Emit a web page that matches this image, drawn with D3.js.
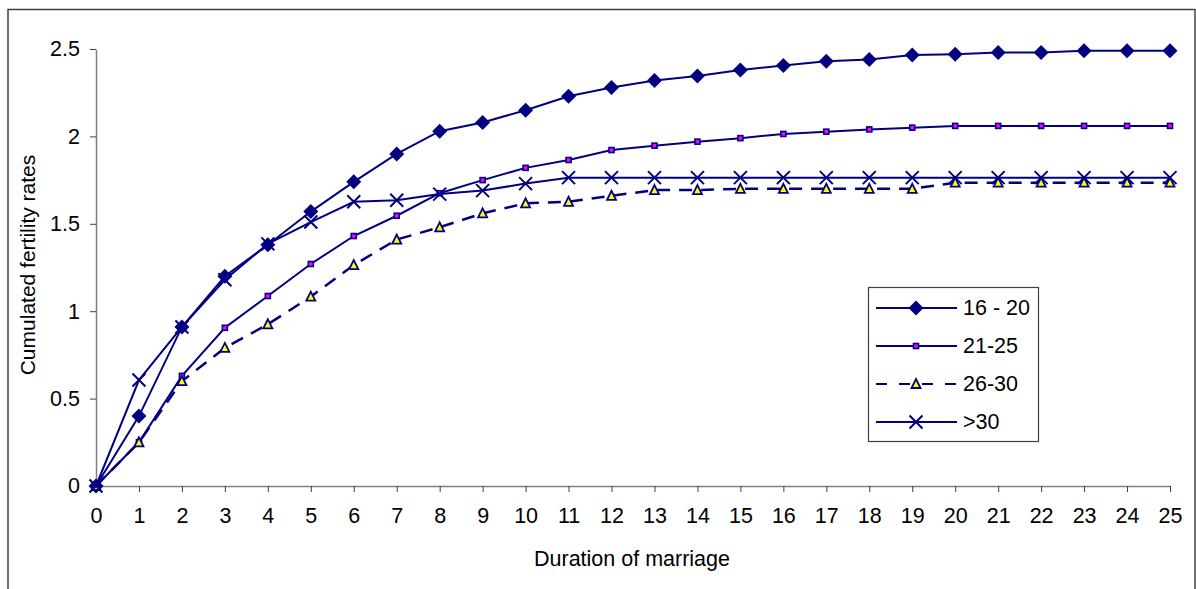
<!DOCTYPE html>
<html>
<head>
<meta charset="utf-8">
<script src="https://cdn.jsdelivr.net/npm/d3@7"></script>
<style>
  body { margin: 0; background: #fff; }
  text { font-family: "Liberation Sans", Arial, sans-serif; fill: #000; }
</style>
</head>
<body>
<div id="chart"></div>
<script>
var durations = d3.range(0, 26);
var yTicks = [0, 0.5, 1, 1.5, 2, 2.5];

var age16_20 = [0, 0.40, 0.91, 1.20, 1.38, 1.57, 1.74, 1.90, 2.03, 2.08, 2.15, 2.23, 2.28, 2.32, 2.345, 2.38, 2.405, 2.43, 2.44, 2.465, 2.47, 2.48, 2.48, 2.49, 2.49, 2.49];
var age21_25 = [0, 0.25, 0.63, 0.905, 1.087, 1.27, 1.43, 1.546, 1.675, 1.75, 1.82, 1.865, 1.922, 1.947, 1.97, 1.99, 2.014, 2.027, 2.04, 2.05, 2.06, 2.06, 2.06, 2.06, 2.06, 2.06];
var age26_30 = [0, 0.25, 0.60, 0.79, 0.925, 1.083, 1.264, 1.41, 1.48, 1.56, 1.617, 1.626, 1.66, 1.693, 1.693, 1.70, 1.70, 1.70, 1.70, 1.70, 1.735, 1.735, 1.735, 1.735, 1.735, 1.735];
var age30plus = [0, 0.606, 0.91, 1.18, 1.385, 1.51, 1.626, 1.635, 1.67, 1.69, 1.73, 1.764, 1.764, 1.764, 1.764, 1.764, 1.764, 1.764, 1.764, 1.764, 1.764, 1.764, 1.764, 1.764, 1.764, 1.764];

var seriesNames = ['16 - 20', '21-25', '26-30', '>30'];
var seriesValues = [age16_20, age21_25, age26_30, age30plus];

var width = 1196, height = 589;
var margin = {top: 49, left: 96, right: 26, bottom: 103};
var navy = '#000080';
var fontSize = 21.5;

var svg = d3.select('#chart').append('svg')
    .attr('width', width)
    .attr('height', height);

// outer frame
svg.append('rect')
  .attr('x', 8)
  .attr('y', 9.5)
  .attr('width', 1187)
  .attr('height', 600)
  .attr('fill', 'none')
  .attr('stroke', '#404040')
  .attr('stroke-width', 1.5);

var x = d3.scaleLinear().domain([0, 25]).range([margin.left, width - margin.right]);
var y = d3.scaleLinear().domain([0, 2.5]).range([height - margin.bottom, margin.top]);

var xAxis = svg.append('g')
  .attr('transform', 'translate(0,' + y(0) + ')')
  .call(d3.axisBottom(x).tickValues(durations).tickSize(6).tickSizeOuter(0).tickPadding(16));

var yAxis = svg.append('g')
  .attr('transform', 'translate(' + x(0) + ',0)')
  .call(d3.axisLeft(y).tickValues(yTicks).tickSize(6).tickSizeOuter(0).tickPadding(10)
    .tickFormat(function(d) { return d3.format('')(d); }));

[xAxis, yAxis].forEach(function(g) {
  g.select('.domain').attr('stroke', '#808080').attr('stroke-width', 1.5);
  g.selectAll('.tick line').attr('stroke', '#404040');
  g.selectAll('.tick text').attr('font-size', fontSize);
});

svg.append('text')
  .attr('x', 632)
  .attr('y', 566)
  .attr('text-anchor', 'middle')
  .attr('font-size', fontSize)
  .text('Duration of marriage');

svg.append('text')
  .attr('transform', 'translate(35,265) rotate(-90)')
  .attr('text-anchor', 'middle')
  .attr('font-size', 21)
  .text('Cumulated fertility rates');

// marker painters
function drawMarker(g, i, cx, cy) {
  if (i === 0) {
    g.append('path')
      .attr('d', 'M' + cx + ',' + (cy - 7.5) + 'L' + (cx + 7.5) + ',' + cy + 'L' + cx + ',' + (cy + 7.5) + 'L' + (cx - 7.5) + ',' + cy + 'Z')
      .attr('fill', navy);
  } else if (i === 1) {
    g.append('rect')
      .attr('x', cx - 2.5).attr('y', cy - 2.5)
      .attr('width', 5).attr('height', 5)
      .attr('fill', '#ff00ff')
      .attr('stroke', navy)
      .attr('stroke-width', 1.6);
  } else if (i === 2) {
    g.append('path')
      .attr('d', 'M' + cx + ',' + (cy - 5) + 'L' + (cx + 4.5) + ',' + (cy + 4) + 'L' + (cx - 4.5) + ',' + (cy + 4) + 'Z')
      .attr('fill', '#ffff00')
      .attr('stroke', navy)
      .attr('stroke-width', 1.8);
  } else {
    var r = 6.5;
    g.append('path')
      .attr('d', 'M' + (cx - r) + ',' + (cy - r) + 'L' + (cx + r) + ',' + (cy + r) + 'M' + (cx - r) + ',' + (cy + r) + 'L' + (cx + r) + ',' + (cy - r))
      .attr('stroke', navy)
      .attr('stroke-width', 2)
      .attr('fill', 'none');
  }
}

var line = d3.line()
  .x(function(d, i) { return x(durations[i]); })
  .y(function(d) { return y(d); });

seriesValues.forEach(function(vals, i) {
  var g = svg.append('g');
  g.append('path')
    .attr('d', line(vals))
    .attr('fill', 'none')
    .attr('stroke', navy)
    .attr('stroke-width', i === 2 ? 2.5 : 2)
    .attr('stroke-dasharray', i === 2 ? '13,9' : null);
  vals.forEach(function(v, j) {
    drawMarker(g, i, x(durations[j]), y(v));
  });
});

// legend
var legend = svg.append('g');
legend.append('rect')
  .attr('x', 868.5).attr('y', 287.5)
  .attr('width', 170).attr('height', 154)
  .attr('fill', '#fff')
  .attr('stroke', '#404040')
  .attr('stroke-width', 1.2);

seriesNames.forEach(function(name, i) {
  var ly = 308 + i * 38;
  legend.append('line')
    .attr('x1', 876).attr('x2', 957)
    .attr('y1', ly).attr('y2', ly)
    .attr('stroke', navy)
    .attr('stroke-width', 2)
    .attr('stroke-dasharray', i === 2 ? '11,12' : null);
  drawMarker(legend, i, 916, ly);
  legend.append('text')
    .attr('x', 963).attr('y', ly + 7)
    .attr('font-size', fontSize)
    .text(name);
});
</script>
</body>
</html>
